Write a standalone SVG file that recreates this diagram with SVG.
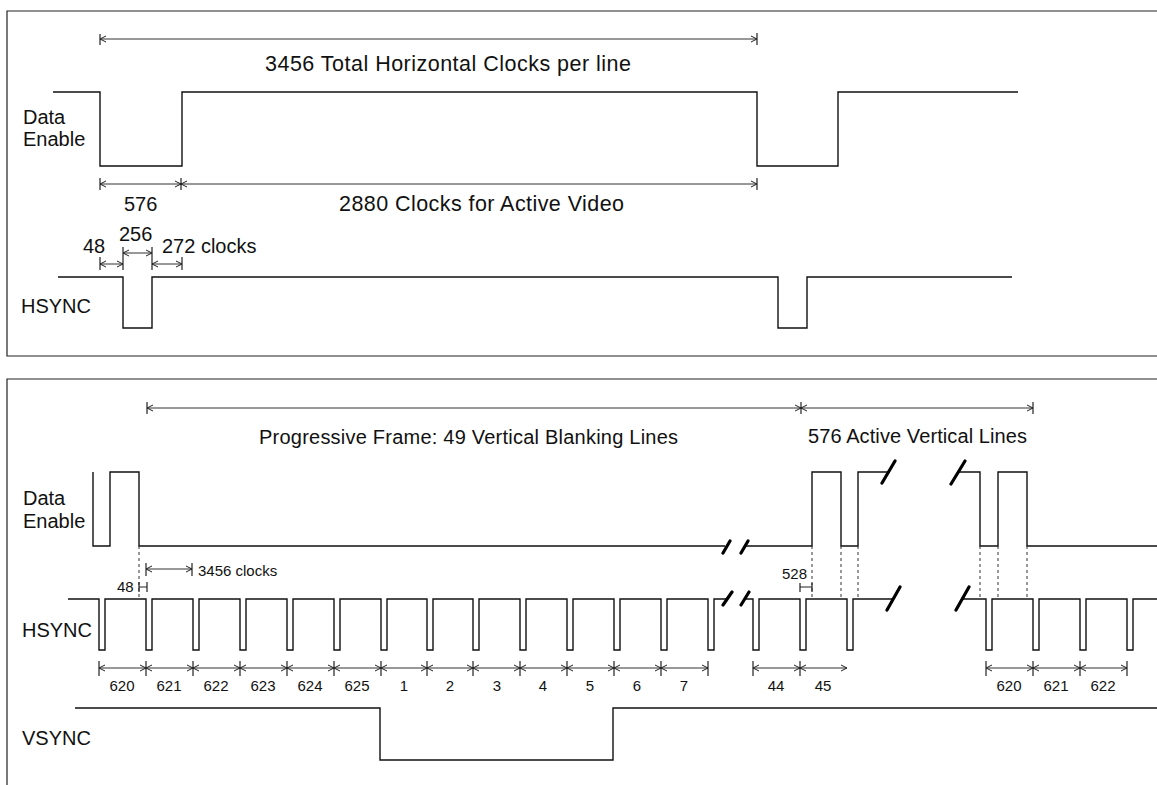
<svg xmlns="http://www.w3.org/2000/svg" width="1157" height="785" viewBox="0 0 1157 785">
<defs>
<marker id="arr" viewBox="-8 -5 10 10" refX="0" refY="0" markerWidth="10" markerHeight="10" markerUnits="userSpaceOnUse" orient="auto-start-reverse">
<path d="M-6,-3 L0,0 L-6,3" fill="none" stroke="#222" stroke-width="1"/>
</marker>
</defs>
<style>
.frame{fill:none;stroke:#222;stroke-width:1.2}
.sig{fill:none;stroke:#111;stroke-width:1.4}
.dim{fill:none;stroke:#333;stroke-width:1;marker-start:url(#arr);marker-end:url(#arr)}
.tick{fill:none;stroke:#222;stroke-width:1.2}
.dot{fill:none;stroke:#333;stroke-width:1;stroke-dasharray:3 3}
.brk{fill:none;stroke:#000;stroke-width:3.2;stroke-linecap:round}
.t{font-family:"Liberation Sans",Arial,sans-serif;font-size:20px;fill:#111}
.tl{font-size:21.5px}
.s{font-family:"Liberation Sans",Arial,sans-serif;font-size:15px;fill:#111}
.c{text-anchor:middle}
</style>
<rect width="1157" height="785" fill="#fff"/>

<g id="frames">
<path class="frame" d="M1160,11 H7 V356 H1160"/>
<path class="frame" d="M1160,379 H7 V790"/>
</g>

<g id="top-panel">
<g id="de1">
<text class="t" x="23" y="124">Data</text>
<text class="t" x="23" y="146">Enable</text>
<path class="sig" d="M53,92 H100 V166 H182 V92 H757 V166 H838 V92 H1018"/>
</g>
<g id="hsync1">
<text class="t" x="21" y="313">HSYNC</text>
<path class="sig" d="M58,277 H123 V328 H152 V277 H778 V328 H807 V277 H1012"/>
</g>
<g id="dims1">
<line class="dim" x1="100" y1="39" x2="757" y2="39"/>
<line class="tick" x1="100" y1="34" x2="100" y2="45"/>
<line class="tick" x1="757" y1="33" x2="757" y2="45"/>
<text class="t tl" x="265" y="71" textLength="366" lengthAdjust="spacing">3456 Total Horizontal Clocks per line</text>
<line class="dim" x1="100" y1="184" x2="181" y2="184"/>
<line class="dim" x1="181" y1="184" x2="757" y2="184"/>
<line class="tick" x1="100" y1="178" x2="100" y2="190"/>
<line class="tick" x1="181" y1="178" x2="181" y2="190"/>
<line class="tick" x1="757" y1="178" x2="757" y2="190"/>
<text class="t" x="124" y="211">576</text>
<text class="t tl" x="339" y="211" textLength="285" lengthAdjust="spacing">2880 Clocks for Active Video</text>
<line class="dim" x1="100" y1="264" x2="123" y2="264"/>
<line class="dim" x1="123" y1="253" x2="152" y2="253"/>
<line class="dim" x1="152" y1="264" x2="182" y2="264"/>
<line class="tick" x1="100" y1="257" x2="100" y2="270"/>
<line class="tick" x1="123" y1="247" x2="123" y2="270"/>
<line class="tick" x1="152" y1="247" x2="152" y2="270"/>
<line class="tick" x1="182" y1="257" x2="182" y2="270"/>
<text class="t" x="83" y="253">48</text>
<text class="t" x="119" y="241">256</text>
<text class="t" x="162" y="253">272 clocks</text>
</g>
</g>

<g id="bottom-panel">
<g id="de2">
<text class="t" x="23" y="505">Data</text>
<text class="t" x="23" y="528">Enable</text>
<path class="sig" d="M93,472 V546 H110 V472 H139 V546 H725"/>
<path class="sig" d="M746,546 H812 V472 H841 V546 H858 V472 H888"/>
<path class="sig" d="M958,472 H980 V546 H998 V472 H1027 V546 H1160"/>
<path class="brk" d="M723,553 L730,541 M741,553 L748,541 M882,483 L895,461 M951,484 L965,461"/>
</g>
<g id="hsync2">
<text class="t" x="22" y="637">HSYNC</text>
<path class="sig" d="M68,599 H99 V650 H105 V599 H146 V650 H152 V599 H193 V650 H199 V599 H240 V650 H246 V599 H287 V650 H293 V599 H334 V650 H340 V599 H381 V650 H387 V599 H427 V650 H433 V599 H473 V650 H479 V599 H520 V650 H526 V599 H567 V650 H573 V599 H614 V650 H620 V599 H661 V650 H667 V599 H708 V650 H714 V599 H727"/>
<path class="sig" d="M745,599 H753 V650 H759 V599 H800 V650 H806 V599 H847 V650 H853 V599 H893"/>
<path class="sig" d="M962,599 H986 V650 H992 V599 H1033 V650 H1039 V599 H1080 V650 H1086 V599 H1127 V650 H1133 V599 H1160"/>
<path class="brk" d="M723,605 L732,592 M741,605 L749,592 M887,610 L900,587 M956,610 L969,587"/>
</g>
<g id="vsync">
<text class="t" x="22" y="745">VSYNC</text>
<path class="sig" d="M75,708 H380 V760 H613 V708 H1160"/>
</g>
<g id="guides">
<path class="dot" d="M139,546 V599 M812,546 V599 M841,546 V599 M858,546 V599 M980,546 V599 M998,546 V599 M1027,546 V599"/>
</g>
<g id="dims2">
<line class="dim" x1="147" y1="408" x2="801" y2="408"/>
<line class="dim" x1="801" y1="408" x2="1033" y2="408"/>
<line class="tick" x1="147" y1="402" x2="147" y2="414"/>
<line class="tick" x1="801" y1="402" x2="801" y2="414"/>
<line class="tick" x1="1033" y1="402" x2="1033" y2="414"/>
<text class="t" x="259" y="444" textLength="419" lengthAdjust="spacing">Progressive Frame: 49 Vertical Blanking Lines</text>
<text class="t" x="808" y="443" textLength="219" lengthAdjust="spacing">576 Active Vertical Lines</text>
<line class="dim" x1="146" y1="569" x2="192" y2="569"/>
<line class="tick" x1="146" y1="563" x2="146" y2="576"/>
<line class="tick" x1="192" y1="563" x2="192" y2="576"/>
<text class="s" x="198" y="576">3456 clocks</text>
<path class="tick" d="M139,582 V592 M147,582 V592 M139,587 H147"/>
<text class="s" x="117" y="592">48</text>
<path class="tick" d="M800,583 V592 M812,583 V592 M800,587 H812"/>
<text class="s" x="782" y="579">528</text>
<path class="dim" d="M99,668 H146"/>
<path class="dim" d="M146,668 H193"/>
<path class="dim" d="M193,668 H240"/>
<path class="dim" d="M240,668 H287"/>
<path class="dim" d="M287,668 H334"/>
<path class="dim" d="M334,668 H381"/>
<path class="dim" d="M381,668 H427"/>
<path class="dim" d="M427,668 H473"/>
<path class="dim" d="M473,668 H520"/>
<path class="dim" d="M520,668 H567"/>
<path class="dim" d="M567,668 H614"/>
<path class="dim" d="M614,668 H661"/>
<path class="dim" d="M661,668 H708"/>
<path class="dim" d="M753,668 H800"/>
<path class="dim" d="M800,668 H847"/>
<path class="dim" d="M986,668 H1033"/>
<path class="dim" d="M1033,668 H1080"/>
<path class="dim" d="M1080,668 H1127"/>
<path class="tick" d="M99,661 V676 M146,661 V676 M193,661 V676 M240,661 V676 M287,661 V676 M334,661 V676 M381,661 V676 M427,661 V676 M473,661 V676 M520,661 V676 M567,661 V676 M614,661 V676 M661,661 V676 M708,661 V676 M753,661 V676 M800,661 V676 M986,661 V676 M1033,661 V676 M1080,661 V676 M1127,661 V676"/>
<g class="s c">
<text x="122" y="691">620</text>
<text x="169" y="691">621</text>
<text x="216" y="691">622</text>
<text x="263" y="691">623</text>
<text x="310" y="691">624</text>
<text x="357" y="691">625</text>
<text x="404" y="691">1</text>
<text x="450" y="691">2</text>
<text x="497" y="691">3</text>
<text x="543" y="691">4</text>
<text x="590" y="691">5</text>
<text x="637" y="691">6</text>
<text x="684" y="691">7</text>
<text x="776" y="691">44</text>
<text x="823" y="691">45</text>
<text x="1009" y="691">620</text>
<text x="1056" y="691">621</text>
<text x="1103" y="691">622</text>
</g>
</g>
</g>
</svg>
